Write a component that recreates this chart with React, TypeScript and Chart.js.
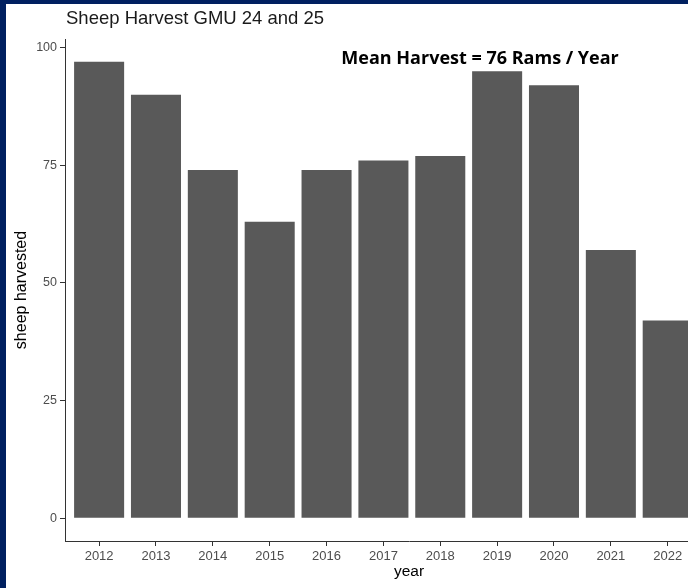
import React, { useEffect, useRef } from "react";
import { Chart, registerables } from "chart.js";

Chart.register(...registerables);

const years = ["2012", "2013", "2014", "2015", "2016", "2017", "2018", "2019", "2020", "2021", "2022"];
const harvest = [97, 90, 74, 63, 74, 76, 77, 95, 92, 57, 42];
const yTicks = [0, 25, 50, 75, 100];

const chartTitle = "Sheep Harvest GMU 24 and 25";
const annotationText = "Mean Harvest = 76 Rams / Year";
const annotX = 6.7;
const annotY = 96.6;

const X_MIN = -0.6;
const X_MAX = 11.5;

const FONT = "'Liberation Sans', Arial, sans-serif";

const overlayPlugin = {
  id: "overlayText",
  afterDraw(chart: any) {
    const ctx = chart.ctx;
    const xs = chart.scales.x;
    const ys = chart.scales.y;
    ctx.save();
    ctx.fillStyle = "#1a1a1a";
    ctx.font = `18.5px ${FONT}`;
    ctx.textAlign = "left";
    ctx.textBaseline = "alphabetic";
    ctx.fillText(chartTitle, xs.left + 1, 20);

    ctx.fillStyle = "#000000";
    ctx.font = `bold 18px 'Open Sans', Lato, sans-serif`;
    ctx.textAlign = "center";
    ctx.fillText(annotationText, xs.getPixelForValue(annotX), ys.getPixelForValue(annotY));
    ctx.restore();
  },
};

export default function App() {
  const ref = useRef<HTMLCanvasElement>(null);

  useEffect(() => {
    if (!ref.current) return;
    const maxV = Math.max(...harvest);
    const expand = 0.05 * maxV;
    const chart = new Chart(ref.current, {
      type: "bar",
      data: {
        datasets: [
          {
            data: harvest.map((v, i) => ({ x: i, y: v })),
            backgroundColor: "#595959",
            borderWidth: 0,
            barPercentage: 0.88,
            categoryPercentage: 1,
          },
        ],
      },
      plugins: [overlayPlugin],
      options: {
        animation: false,
        responsive: false,
        maintainAspectRatio: false,
        layout: { padding: { top: 35, left: 0, right: 0, bottom: 0 } },
        plugins: {
          legend: { display: false },
          tooltip: { enabled: false },
          title: { display: false },
        },
        scales: {
          x: {
            type: "linear",
            min: X_MIN,
            max: X_MAX,
            offset: false,
            afterBuildTicks: (scale: any) => {
              scale.ticks = years.map((_, i) => ({ value: i }));
            },
            afterFit: (scale: any) => {
              scale.height = 47;
            },
            ticks: {
              callback: (v: any) => years[v as number] ?? "",
              font: { family: FONT, size: 13 },
              color: "#4d4d4d",
              padding: 3,
              maxRotation: 0,
              autoSkip: false,
            },
            grid: {
              display: true,
              offset: false,
              drawOnChartArea: false,
              drawTicks: true,
              tickLength: 5,
              color: "#333333",
            },
            border: { display: true, color: "#333333", width: 1 },
            title: {
              display: true,
              text: "year",
              font: { family: FONT, size: 15.5 },
              color: "#000000",
              padding: { top: 0, bottom: 7 },
            },
          },
          y: {
            type: "linear",
            min: -expand,
            max: maxV + expand,
            afterBuildTicks: (scale: any) => {
              scale.ticks = yTicks.map((v) => ({ value: v }));
            },
            afterFit: (scale: any) => {
              scale.width = 59;
            },
            ticks: {
              font: { family: FONT, size: 12.5 },
              color: "#4d4d4d",
              padding: 3,
            },
            grid: {
              display: true,
              drawOnChartArea: false,
              drawTicks: true,
              tickLength: 5,
              color: "#333333",
            },
            border: { display: true, color: "#333333", width: 1 },
            title: {
              display: true,
              text: "sheep harvested",
              font: { family: FONT, size: 16 },
              color: "#000000",
              padding: { top: 6, bottom: 0 },
            },
          },
        },
      },
    });
    return () => chart.destroy();
  }, []);

  return (
    <div
      style={{
        position: "fixed",
        left: 0,
        top: 0,
        width: 688,
        height: 588,
        overflow: "hidden",
        background: "#002060",
      }}
    >
      <div
        style={{
          position: "absolute",
          left: 6,
          top: 4,
          width: 747,
          height: 584,
          background: "#ffffff",
        }}
      >
        <canvas ref={ref} width={747} height={584} style={{ display: "block" }} />
      </div>
    </div>
  );
}
